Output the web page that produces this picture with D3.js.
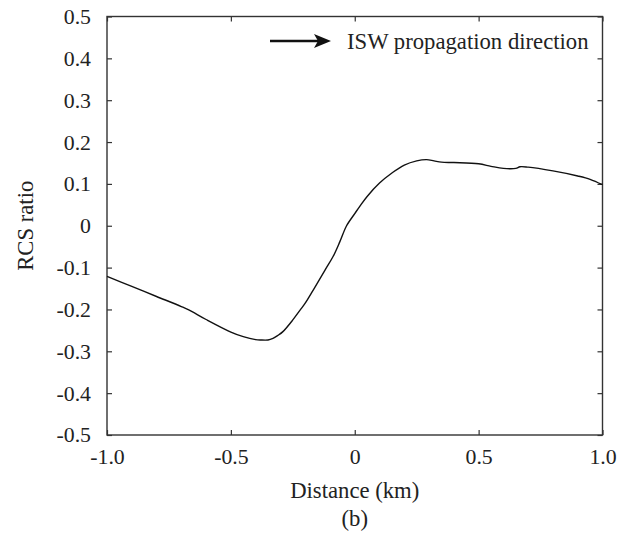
<!DOCTYPE html>
<html>
<head>
<meta charset="utf-8">
<script src="https://cdn.jsdelivr.net/npm/d3@7"></script>
</head>
<body style="margin:0">
<div id="chart"></div>
<script>
// values
var distance = [-1.0, -0.9, -0.8, -0.7, -0.67, -0.6, -0.5, -0.45, -0.4, -0.38, -0.35, -0.33, -0.31, -0.29,
  -0.25, -0.22, -0.2, -0.167, -0.12, -0.087, -0.06, -0.033, 0.0, 0.021, 0.05, 0.1, 0.15, 0.2, 0.25, 0.29,
  0.32, 0.35, 0.4, 0.5, 0.55, 0.6, 0.65, 0.667, 0.7, 0.8, 0.9, 0.95, 1.0];
var rcsRatio = [-0.121, -0.145, -0.169, -0.193, -0.201, -0.224, -0.254, -0.265, -0.272, -0.273, -0.273, -0.269, -0.262, -0.253,
  -0.225, -0.201, -0.185, -0.153, -0.106, -0.073, -0.038, 0.0, 0.029, 0.047, 0.070, 0.102, 0.126, 0.145, 0.155, 0.158,
  0.155, 0.152, 0.151, 0.148, 0.142, 0.137, 0.137, 0.141, 0.140, 0.131, 0.119, 0.111, 0.098];
var xTicks = [-1.0, -0.5, 0, 0.5, 1.0];
var yTicks = [-0.5, -0.4, -0.3, -0.2, -0.1, 0, 0.1, 0.2, 0.3, 0.4, 0.5];
var legendLabel = "ISW propagation direction";

var margin = { top: 16.5, right: 27.5, bottom: 109, left: 107 };
var W = 630, H = 544;
var width = W - margin.left - margin.right;
var height = H - margin.top - margin.bottom;

var svg = d3.select("#chart").append("svg")
  .attr("width", W)
  .attr("height", H);

var g = svg.append("g")
  .attr("transform", "translate(" + margin.left + "," + margin.top + ")");

var x = d3.scaleLinear().domain([-1, 1]).range([0, width]);
var y = d3.scaleLinear().domain([-0.5, 0.5]).range([height, 0]);

var fmt = function (d) { return d === 0 ? "0" : d3.format(".1f")(d).replace("−", "-"); };

// axes with inward ticks; top and right only mirror the ticks
var axes = [
  g.append("g").attr("transform", "translate(0," + height + ")")
    .call(d3.axisBottom(x).tickValues(xTicks).tickSizeInner(-5).tickSizeOuter(0).tickPadding(14).tickFormat(fmt)),
  g.append("g")
    .call(d3.axisTop(x).tickValues(xTicks).tickSizeInner(-5).tickSizeOuter(0).tickFormat("")),
  g.append("g")
    .call(d3.axisLeft(y).tickValues(yTicks).tickSizeInner(-5).tickSizeOuter(0).tickPadding(16).tickFormat(fmt)),
  g.append("g").attr("transform", "translate(" + width + ",0)")
    .call(d3.axisRight(y).tickValues(yTicks).tickSizeInner(-5).tickSizeOuter(0).tickFormat(""))
];
axes.forEach(function (a) {
  a.attr("font-family", null).attr("font-size", null);
  a.select(".domain").remove();
  a.selectAll(".tick line").attr("stroke", "#333").attr("stroke-width", 1.2);
  a.selectAll(".tick text")
    .attr("font-family", "Times New Roman")
    .attr("font-size", 21.8)
    .attr("fill", "#222");
});

// frame
g.append("rect")
  .attr("width", width).attr("height", height)
  .attr("fill", "none")
  .attr("stroke", "#333")
  .attr("stroke-width", 1.4);

// curve
var pts = distance.map(function (d, i) { return [d, rcsRatio[i]]; });
var line = d3.line()
  .x(function (d) { return x(d[0]); })
  .y(function (d) { return y(d[1]); })
  .curve(d3.curveCatmullRom.alpha(0.5));

g.append("path")
  .datum(pts)
  .attr("d", line)
  .attr("fill", "none")
  .attr("stroke", "#111")
  .attr("stroke-width", 1.4);

// legend arrow
svg.append("line")
  .attr("x1", 270).attr("y1", 41)
  .attr("x2", 318).attr("y2", 41)
  .attr("stroke", "#111")
  .attr("stroke-width", 2.6);
svg.append("path")
  .attr("d", "M314,34 L331,41 L314,48 L318,41 Z")
  .attr("fill", "#111");

var labels = [
  { t: legendLabel, x: 347, y: 49, anchor: "start", rot: false },
  { t: "Distance (km)", x: margin.left + width / 2, y: 498, anchor: "middle", rot: false },
  { t: "RCS ratio", x: 33, y: margin.top + height / 2, anchor: "middle", rot: true },
  { t: "(b)", x: margin.left + width / 2, y: 526, anchor: "middle", rot: false }
];
svg.selectAll("text.label").data(labels).enter().append("text")
  .attr("class", "label")
  .attr("font-family", "Times New Roman")
  .attr("font-size", 22.7)
  .attr("fill", "#222")
  .attr("text-anchor", function (d) { return d.anchor; })
  .attr("transform", function (d) {
    return "translate(" + d.x + "," + d.y + ")" + (d.rot ? " rotate(-90)" : "");
  })
  .text(function (d) { return d.t; });
</script>
</body>
</html>
